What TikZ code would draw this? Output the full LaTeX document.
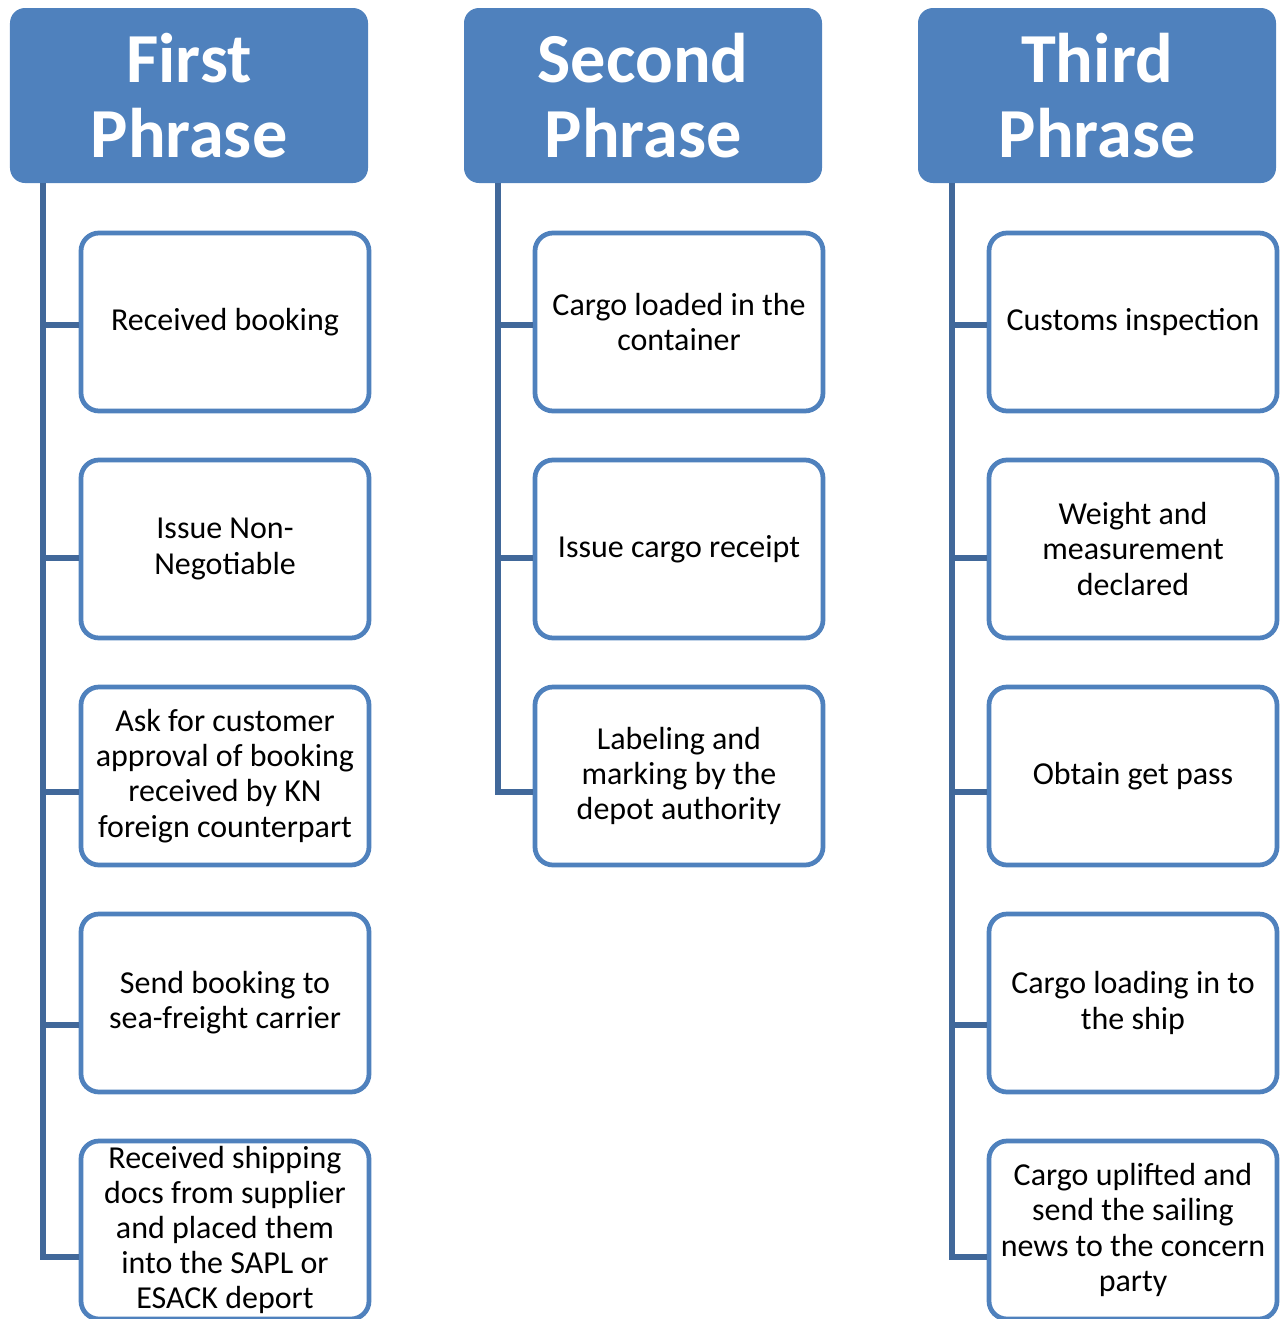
\documentclass[tikz,border=0pt]{standalone}
\usepackage{fontspec}
\setmainfont{Carlito}
\usepackage{tikz}
\usetikzlibrary{positioning}

\definecolor{boxblue}{HTML}{4F81BD}
\definecolor{linkblue}{HTML}{41689A}
\newcommand{\headfont}{\fontsize{40}{43}\selectfont\bfseries}
\newcommand{\bodyfont}{\fontsize{18.2}{20}\selectfont}

\tikzset{
  phase/.style={fill=boxblue, text=white, rounded corners=0.3cm, minimum width=7.16cm, minimum height=3.5cm, align=center, font=\headfont, inner sep=0pt},
  task/.style={draw=boxblue, fill=white, line width=2.7pt, rounded corners=0.36cm, minimum width=5.76cm, minimum height=3.56cm, align=center, font=\bodyfont, inner sep=0pt},
  link/.style={draw=linkblue, line width=3pt}
}

\begin{document}
\begin{tikzpicture}
  \useasboundingbox (0,0) rectangle (25.62,-26.38);
  % phase headers
  \node[phase] (p1) at (3.78,-1.91) {First\\Phrase};
  \node[phase] (p2) at (12.86,-1.91) {Second\\Phrase};
  \node[phase] (p3) at (21.94,-1.91) {Third\\Phrase};

  % first phrase
  \node[task] (b11) at (4.50,-6.44) {Received booking};
  \node[task] (b12) at (4.50,-10.98) {Issue Non-\\Negotiable};
  \node[task] (b13) at (4.50,-15.52) {Ask for customer\\approval of booking\\received by KN\\foreign counterpart};
  \node[task] (b14) at (4.50,-20.06) {Send booking to\\sea-freight carrier};
  \node[task] (b15) at (4.50,-24.60) {Received shipping\\docs from supplier\\and placed them\\into the SAPL or\\ESACK deport};

  % second phrase
  \node[task] (b21) at (13.58,-6.44) {Cargo loaded in the\\container};
  \node[task] (b22) at (13.58,-10.98) {Issue cargo receipt};
  \node[task] (b23) at (13.58,-15.52) {Labeling and\\marking by the\\depot authority};

  % third phrase
  \node[task] (b31) at (22.66,-6.44) {Customs inspection};
  \node[task] (b32) at (22.66,-10.98) {Weight and\\measurement\\declared};
  \node[task] (b33) at (22.66,-15.52) {Obtain get pass};
  \node[task] (b34) at (22.66,-20.06) {Cargo loading in to\\the ship};
  \node[task] (b35) at (22.66,-24.60) {Cargo uplifted and\\send the sailing\\news to the concern\\party};

  % trunk points
  \coordinate (r11) at (0.86,-6.50);
  \coordinate (r12) at (0.86,-11.16);
  \coordinate (r13) at (0.86,-15.84);
  \coordinate (r14) at (0.86,-20.50);
  \coordinate (r15) at (0.86,-25.14);
  \coordinate (r21) at (9.96,-6.50);
  \coordinate (r22) at (9.96,-11.16);
  \coordinate (r23) at (9.96,-15.84);
  \coordinate (r31) at (19.04,-6.50);
  \coordinate (r32) at (19.04,-11.16);
  \coordinate (r33) at (19.04,-15.84);
  \coordinate (r34) at (19.04,-20.50);
  \coordinate (r35) at (19.04,-25.14);

  \draw[link] (p1.south -| r11) |- (r15 -| b15.west);
  \draw[link] (p2.south -| r21) |- (r23 -| b23.west);
  \draw[link] (p3.south -| r31) |- (r35 -| b35.west);
  \path[link]
  (r11) edge (r11 -| b11.west)
  (r12) edge (r12 -| b12.west)
  (r13) edge (r13 -| b13.west)
  (r14) edge (r14 -| b14.west)
  (r21) edge (r21 -| b21.west)
  (r22) edge (r22 -| b22.west)
  (r31) edge (r31 -| b31.west)
  (r32) edge (r32 -| b32.west)
  (r33) edge (r33 -| b33.west)
  (r34) edge (r34 -| b34.west);
\end{tikzpicture}
\end{document}
